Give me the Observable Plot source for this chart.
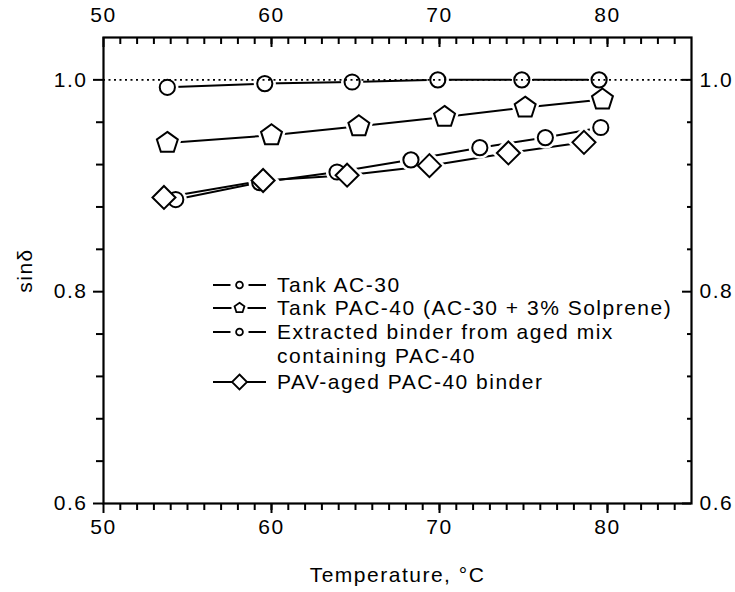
<!DOCTYPE html>
<html><head><meta charset="utf-8">
<script src="https://cdn.jsdelivr.net/npm/d3@7"></script>
<script src="https://cdn.jsdelivr.net/npm/@observablehq/plot@0.6"></script>
<style>
body{margin:0;background:#fff}
svg text{letter-spacing:1.5px}
</style>
</head><body><div id="chart"></div>
<script>
// ---- data ----
const seriesNames = ["Tank AC-30", "Tank PAC-40 (AC-30 + 3% Solprene)", "Extracted binder from aged mix containing PAC-40", "PAV-aged PAC-40 binder"];
const tankAC30_T = [53.8, 59.6, 64.8, 69.9, 74.9, 79.5];
const tankAC30_S = [0.993, 0.9965, 0.998, 1.0, 1.0, 1.0];
const tankPAC40_T = [53.8, 60.0, 65.2, 70.3, 75.1, 79.7];
const tankPAC40_S = [0.9405, 0.9477, 0.9562, 0.965, 0.9738, 0.9814];
const extracted_T = [54.3, 59.3, 63.9, 68.3, 72.4, 76.3, 79.6];
const extracted_S = [0.887, 0.903, 0.913, 0.9245, 0.936, 0.9455, 0.955];
const pav_T = [53.6, 59.5, 64.5, 69.4, 74.1, 78.6];
const pav_S = [0.889, 0.905, 0.910, 0.919, 0.931, 0.941];
const xMajorTicks = [50, 60, 70, 80];
const xMinorTicks = d3.range(51, 85);
const yMajorTicks = [0.6, 0.8, 1.0];
const yMinorTicks = [0.64, 0.68, 0.72, 0.76, 0.84, 0.88, 0.92, 0.96];
const legendLines = [["Tank AC-30"], ["Tank PAC-40 (AC-30 + 3% Solprene)"], ["Extracted binder from aged mix", "containing PAC-40"], ["PAV-aged PAC-40 binder"]];

// ---- tidy table ----
function mk(name, T, S) { return T.map((t, i) => ({series: name, T: t, S: S[i]})); }
const sAC = mk(seriesNames[0], tankAC30_T, tankAC30_S);
const sPAC = mk(seriesNames[1], tankPAC40_T, tankPAC40_S);
const sEx = mk(seriesNames[2], extracted_T, extracted_S);
const sPAV = mk(seriesNames[3], pav_T, pav_S);
const all = [...sAC, ...sPAC, ...sEx, ...sPAV];

// ---- symbols ----
const pentagon = {draw(ctx, size) {
  const R = Math.sqrt(size / Math.PI);
  for (let k = 0; k < 5; k++) {
    const a = -Math.PI / 2 + k * 2 * Math.PI / 5;
    const x = R * Math.cos(a), y = R * Math.sin(a);
    k ? ctx.lineTo(x, y) : ctx.moveTo(x, y);
  }
  ctx.closePath();
}};
const diamond = {draw(ctx, size) {
  const R = Math.sqrt(size / Math.PI);
  ctx.moveTo(0, -R); ctx.lineTo(R, 0); ctx.lineTo(0, R); ctx.lineTo(-R, 0); ctx.closePath();
}};

const W = 735, H = 592, mL = 103, mR = 44, mT = 37, mB = 89;
const plotW = W - mL - mR, plotH = H - mT - mB;
const fmt = d3.format(".1f");
const FS = 21;

const groups = [
  {data: sAC, symbol: "circle", r: 7.6},
  {data: sPAC, symbol: pentagon, r: 11},
  {data: sEx, symbol: "circle", r: 7.6},
  {data: sPAV, symbol: diamond, r: 11.5}
];

const plot = Plot.plot({
  width: W, height: H,
  marginLeft: mL, marginRight: mR, marginTop: mT, marginBottom: mB,
  style: {fontFamily: "'Liberation Sans', Arial, sans-serif", fontSize: "21px", color: "black", background: "white"},
  x: {domain: [50, 85]},
  y: {domain: [0.6, 1.04]},
  marks: [
    // bottom axis
    Plot.axisX(xMinorTicks, {anchor: "bottom", tickSize: 7, strokeWidth: 2, tickFormat: () => "", label: null}),
    Plot.axisX(xMajorTicks, {anchor: "bottom", tickSize: 10, strokeWidth: 2, tickPadding: 6, fontSize: FS, label: "Temperature, °C", labelAnchor: "center", labelArrow: "none", labelOffset: 78}),
    // top axis (labels outside, ticks inward)
    Plot.axisX(xMajorTicks, {anchor: "top", tickSize: 0, tickPadding: 16, fontSize: FS, label: null}),
    Plot.tickX(xMinorTicks, {insetBottom: plotH - 7, strokeWidth: 2}),
    Plot.tickX(xMajorTicks, {insetBottom: plotH - 10, strokeWidth: 2}),
    // left axis
    Plot.axisY(yMinorTicks, {anchor: "left", tickSize: 7, strokeWidth: 2, tickFormat: () => "", label: null}),
    Plot.axisY(yMajorTicks, {anchor: "left", tickSize: 10, strokeWidth: 2, tickPadding: 6, fontSize: FS, tickFormat: fmt, label: "sinδ", labelAnchor: "center", labelArrow: "none", labelOffset: 86}),
    // right axis (labels outside, ticks inward)
    Plot.axisY(yMajorTicks, {anchor: "right", tickSize: 0, tickPadding: 8, fontSize: FS, tickFormat: fmt, label: null}),
    Plot.tickY(yMinorTicks, {insetLeft: plotW - 4, strokeWidth: 2}),
    Plot.tickY(yMajorTicks, {insetLeft: plotW - 9, strokeWidth: 2}),
    // frame
    Plot.frame({stroke: "black", strokeWidth: 2.2}),
    // series lines
    Plot.line(all, {x: "T", y: "S", z: "series", stroke: "black", strokeWidth: 2}),
    // halos + markers
    ...groups.map(g => Plot.dot(g.data, {x: "T", y: "S", symbol: g.symbol, r: g.r, fill: "white", stroke: "white", strokeWidth: 7})),
    ...groups.map(g => Plot.dot(g.data, {x: "T", y: "S", symbol: g.symbol, r: g.r, fill: "white", stroke: "black", strokeWidth: 2})),
    // sin δ = 1 reference
    Plot.ruleY([1.0], {stroke: "black", strokeWidth: 1.8, strokeDasharray: "2,3.5"})
  ]
});

// ---- legend (inside the frame) ----
const svg = d3.select(plot);
svg.selectAll("text").attr("font-size", FS);
const lg = svg.append("g").attr("fill", "none").attr("stroke", "black");
const rowY = [285, 308, 332, 382];
const lx0 = 213, lx1 = 266, cx = 239.5, tx = 277;
const legendSym = [
  {sym: d3.symbolCircle, size: Math.PI * 3.4 * 3.4, gap: 9},
  {sym: pentagon, size: Math.PI * 5.2 * 5.2, gap: 8},
  {sym: d3.symbolCircle, size: Math.PI * 3.4 * 3.4, gap: 9},
  {sym: diamond, size: Math.PI * 7.5 * 7.5, gap: 7.5}
];
legendLines.forEach((lines, i) => {
  const y = rowY[i], s = legendSym[i];
  lg.append("line").attr("x1", lx0).attr("x2", cx - s.gap).attr("y1", y).attr("y2", y).attr("stroke-width", 2);
  lg.append("line").attr("x1", cx + s.gap).attr("x2", lx1).attr("y1", y).attr("y2", y).attr("stroke-width", 2);
  lg.append("path").attr("d", d3.symbol(s.sym, s.size)()).attr("transform", `translate(${cx},${y})`)
    .attr("fill", "white").attr("stroke-width", 1.8);
  lines.forEach((t, j) => {
    svg.append("text").attr("x", tx).attr("y", y + j * 24).attr("dy", "0.35em")
      .attr("text-anchor", "start").attr("fill", "black").attr("font-size", FS).text(t);
  });
});

document.getElementById("chart").appendChild(plot);
</script>
</body></html>
